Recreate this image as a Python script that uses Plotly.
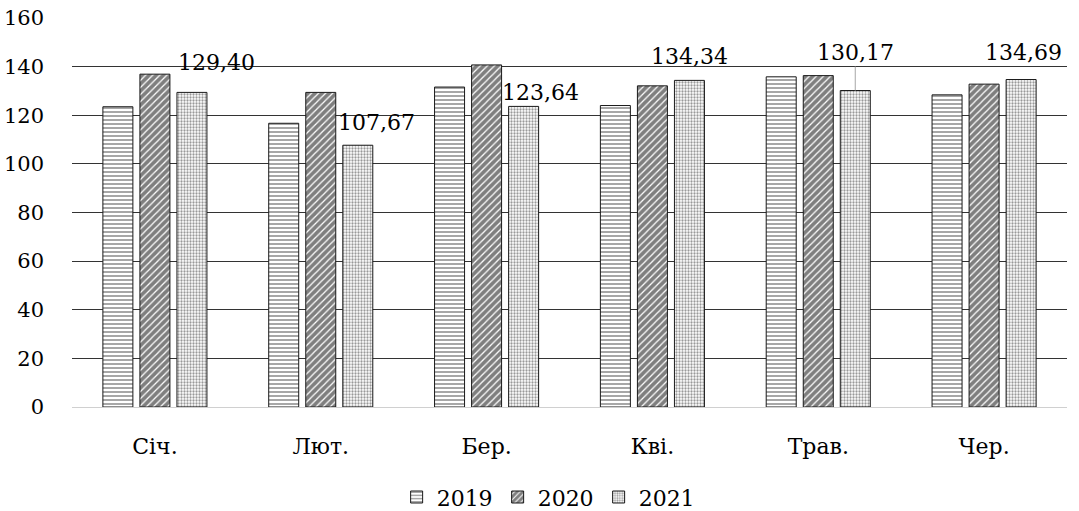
import plotly.graph_objects as go

months = ["Січ.", "Лют.", "Бер.", "Кві.", "Трав.", "Чер."]
years = ["2019", "2020", "2021"]
v2019 = [123.5, 116.7, 131.6, 124.0, 135.8, 128.4]
v2020 = [136.9, 129.4, 140.7, 132.1, 136.3, 132.8]
v2021 = [129.40, 107.67, 123.64, 134.34, 130.17, 134.69]
labels2021 = ["129,40", "107,67", "123,64", "134,34", "130,17", "134,69"]
y_ticks = [0, 20, 40, 60, 80, 100, 120, 140, 160]

FONT = "DejaVu Serif"
FS = 22

patterns = [
    dict(shape="-", size=4, solidity=0.4, fgcolor="#222222", bgcolor="white", fillmode="overlay"),
    dict(shape="/", size=5, solidity=0.75, fgcolor="#000000", bgcolor="white", fillmode="overlay"),
    dict(shape=".", size=3, solidity=0.45, fgcolor="#333333", bgcolor="white", fillmode="overlay"),
]

fig = go.Figure()
for name, vals, pat in zip(years, [v2019, v2020, v2021], patterns):
    fig.add_trace(go.Bar(
        x=months, y=vals, name=name,
        marker=dict(color="white", pattern=pat, line=dict(color="#1a1a1a", width=1)),
    ))

label_dx = [25, 19, 17, 0, 0, 2]
label_dy = [30, 23, 14, 24, 38, 27]
bar_offset = 37
for m, v, t, dx, dy in zip(months, v2021, labels2021, label_dx, label_dy):
    if t == "130,17":
        fig.add_annotation(x=m, y=v, xref="x", yref="y", text=t, xshift=bar_offset,
                           showarrow=True, ax=0, ay=-dy, arrowhead=0, arrowwidth=1,
                           arrowcolor="#a6a6a6", standoff=0, startstandoff=0,
                           font=dict(family=FONT, size=FS, color="black"))
    else:
        fig.add_annotation(x=m, y=v, xref="x", yref="y", text=t,
                           xshift=bar_offset + dx, yshift=dy, showarrow=False,
                           yanchor="middle", xanchor="center",
                           font=dict(family=FONT, size=FS, color="black"))

fig.update_layout(
    width=1079, height=511,
    margin=dict(l=72, r=12, t=18, b=104),
    paper_bgcolor="white", plot_bgcolor="white",
    barmode="group", bargap=0.33, bargroupgap=0.19,
    font=dict(family=FONT, size=FS, color="black"),
    showlegend=True,
    legend=dict(orientation="h", xref="container", yref="container",
                x=0.508, xanchor="center", y=0.027, yanchor="middle",
                font=dict(family=FONT, size=FS, color="black"), traceorder="normal",
                itemwidth=30, tracegroupgap=0),
    xaxis=dict(showgrid=False, showline=False, ticks="", ticklabelstandoff=24,
               automargin=False,
               tickfont=dict(family=FONT, size=FS, color="black")),
    yaxis=dict(range=[0, 160], tickvals=y_ticks, showgrid=True, gridcolor="#333333",
               gridwidth=1, zeroline=True, zerolinecolor="#d0d0d0", zerolinewidth=1,
               showline=False, ticks="", ticklabelstandoff=27, automargin=False,
               tickfont=dict(family=FONT, size=21, color="black")),
)

fig.write_html("out.html", config={"displayModeBar": False},
               post_script="document.body.style.margin='0';document.body.style.overflow='hidden';")
